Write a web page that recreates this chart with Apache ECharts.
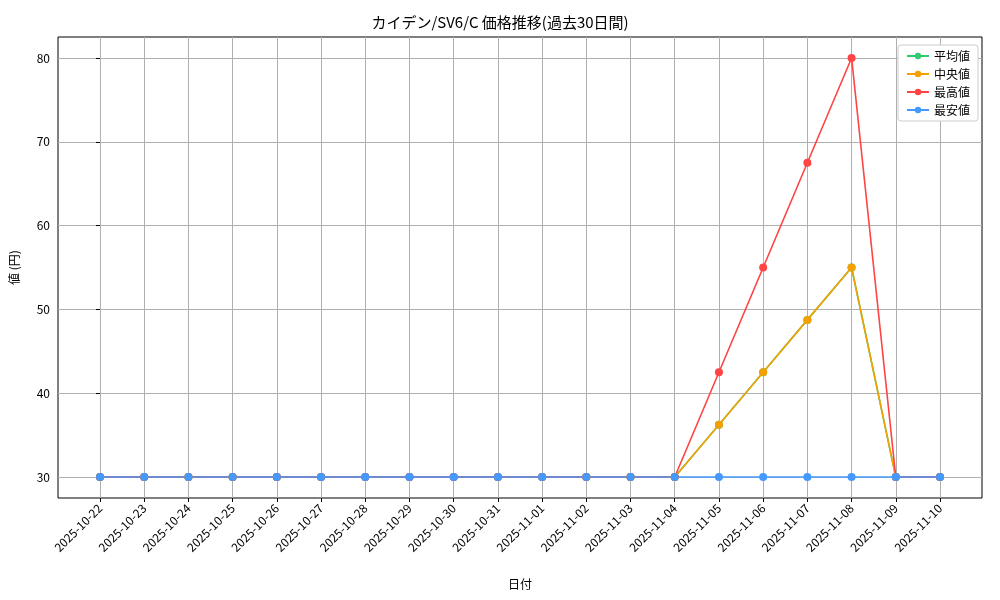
<!DOCTYPE html><html><head><meta charset="utf-8"><script src="https://cdn.jsdelivr.net/npm/echarts@6/dist/echarts.min.js"></script></head><body style="margin:0"><div id="c" style="width:1000px;height:600px"></div><script>
const D=['2025-10-22','2025-10-23','2025-10-24','2025-10-25','2025-10-26','2025-10-27','2025-10-28','2025-10-29','2025-10-30','2025-10-31','2025-11-01','2025-11-02','2025-11-03','2025-11-04','2025-11-05','2025-11-06','2025-11-07','2025-11-08','2025-11-09','2025-11-10'];
const A=[30,30,30,30,30,30,30,30,30,30,30,30,30,30,36.25,42.5,48.75,55,30,30];
const M=[30,30,30,30,30,30,30,30,30,30,30,30,30,30,36.25,42.5,48.75,55,30,30];
const X=[30,30,30,30,30,30,30,30,30,30,30,30,30,30,42.5,55,67.5,80,30,30];
const N=[30,30,30,30,30,30,30,30,30,30,30,30,30,30,30,30,30,30,30,30];
const YT=[30,40,50,60,70,80];
const f='"Noto Sans CJK JP"';
const n=D.length, pad=(n-1)*0.05;
const idx=D.map((d,i)=>i);
const pts=a=>a.map((v,i)=>[i,v]);
const ser=(name,data,color)=>({name,type:'line',data:pts(data),symbol:'circle',symbolSize:8,itemStyle:{color},lineStyle:{color,width:1.6}});
const c=echarts.init(document.getElementById('c'));
c.setOption({animation:false,
title:{text:'カイデン/SV6/C 価格推移(過去30日間)',left:'center',top:10,textStyle:{fontFamily:f,fontSize:15,fontWeight:'normal',color:'#000'}},
legend:{right:22,top:45,orient:'vertical',itemGap:6,itemWidth:22,itemHeight:8,borderColor:'#ccc',borderWidth:1,borderRadius:3,padding:[5,8],backgroundColor:'#fff',textStyle:{fontFamily:f,fontSize:12,color:'#000'},data:['平均値','中央値','最高値','最安値']},
grid:{left:58,right:18,top:37,bottom:102,show:true,borderColor:'#000',borderWidth:1},
xAxis:{type:'value',min:-pad,max:n-1+pad,name:'日付',nameLocation:'middle',nameGap:80,nameTextStyle:{fontFamily:f,fontSize:12,color:'#000'},
axisLine:{show:false},axisTick:{show:true,length:4,customValues:idx,lineStyle:{color:'#000'}},splitLine:{show:true,lineStyle:{color:'#b0b0b0'}},
axisLabel:{rotate:45,fontFamily:f,fontSize:12,color:'#000',customValues:idx,formatter:v=>D[Math.round(v)]||''}},
yAxis:{type:'value',min:27.5,max:82.5,name:'値 (円)',nameLocation:'middle',nameGap:38,nameTextStyle:{fontFamily:f,fontSize:12,color:'#000'},
axisLine:{show:false},axisTick:{show:true,length:4,customValues:YT,lineStyle:{color:'#000'}},splitLine:{show:true,lineStyle:{color:'#b0b0b0'}},
axisLabel:{fontFamily:f,fontSize:12,color:'#000',customValues:YT,formatter:v=>String(v)}},
series:[ser('平均値',A,'#2ecc71'),ser('中央値',M,'#f5a000'),ser('最高値',X,'#ff4444'),ser('最安値',N,'#4499ff')]
});
</script></body></html>
